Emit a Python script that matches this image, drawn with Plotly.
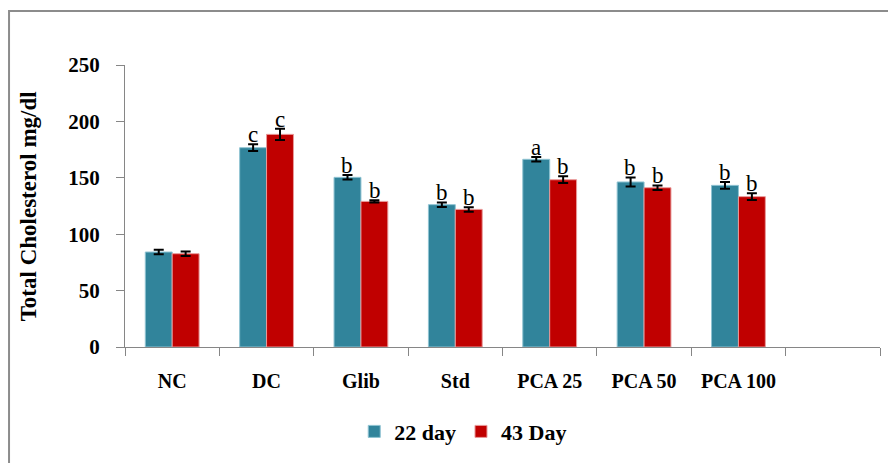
import plotly.graph_objects as go

categories = ["NC", "DC", "Glib", "Std", "PCA 25", "PCA 50", "PCA 100"]
day22 = [84.2, 176.7, 150.4, 126.2, 166.4, 146.3, 143.3]
day22_err = [2, 3, 2, 2, 2, 4, 3]
day22_letters = ["", "c", "b", "b", "a", "b", "b"]
day43 = [82.7, 188.5, 129.1, 122.0, 148.3, 141.2, 133.3]
day43_err = [2, 5, 1, 2, 3, 2, 3]
day43_letters = ["", "c", "b", "b", "b", "b", "b"]
y_ticks = [0, 50, 100, 150, 200, 250]

BLUE = "#31849B"
RED = "#C00000"
FONT = "Liberation Serif"

x = list(range(len(categories)))

fig = go.Figure()
fig.add_trace(go.Bar(
    x=x, y=day22, name="<b>22 day</b>", marker=dict(color=BLUE, line=dict(color="#8fc3d2", width=1)),
    error_y=dict(type="data", array=day22_err, color="black", thickness=2, width=5),
))
fig.add_trace(go.Bar(
    x=x, y=day43, name="<b>43 Day</b>", marker=dict(color=RED, line=dict(color="#e89a9a", width=1)),
    error_y=dict(type="data", array=day43_err, color="black", thickness=2, width=5),
))

for i in x:
    for off, vals, errs, letters in ((-0.145, day22, day22_err, day22_letters),
                                     (0.145, day43, day43_err, day43_letters)):
        if letters[i]:
            fig.add_annotation(x=i + off, y=vals[i] + errs[i], text=letters[i], showarrow=False,
                               xref="x", yref="y", yanchor="bottom", yshift=-5,
                               font=dict(family=FONT, size=23, color="black"))

fig.add_annotation(x=-0.128, y=0.50, xref="paper", yref="paper", xanchor="center", yanchor="middle",
                   text="<b>Total Cholesterol mg/dl</b>",
                   textangle=-90, showarrow=False, font=dict(family=FONT, size=23, color="black"))

fig.add_shape(type="rect", xref="paper", yref="paper", x0=-0.1536, x1=1.2, y0=-0.6, y1=1.1915,
              line=dict(color="#8c8c8c", width=2), layer="below")

fig.update_layout(
    width=896, height=463,
    margin=dict(l=117, r=24, t=57, b=124, autoexpand=False),
    paper_bgcolor="white", plot_bgcolor="white",
    barmode="group", bargap=0.43, bargroupgap=0,
    font=dict(family=FONT, color="black"),
    showlegend=True,
    legend=dict(orientation="h", x=0.448, xanchor="center", y=-0.30, yanchor="middle",
                font=dict(family=FONT, size=22, color="black"), traceorder="normal",
                itemwidth=30),
    xaxis=dict(
        range=[-0.5, 7.5], tickmode="array", tickvals=x,
        ticktext=["<b>%s</b>" % c for c in categories], ticks="",
        tickfont=dict(family=FONT, size=20, color="black"),
        showline=True, linecolor="#868686", linewidth=1, showgrid=False, zeroline=False,
        ticklabelstandoff=16, automargin=False,
        minor=dict(tick0=-0.5, dtick=1, ticks="outside", ticklen=8, tickcolor="#868686", tickwidth=1, showgrid=False),
    ),
    yaxis=dict(
        range=[0, 250], tickmode="array", tickvals=y_ticks,
        ticktext=["<b>%d</b>" % v for v in y_ticks],
        ticks="outside", ticklen=8, tickcolor="#868686",
        tickfont=dict(family=FONT, size=21, color="black"),
        showline=True, linecolor="#868686", linewidth=1, showgrid=False, zeroline=False,
        ticklabelstandoff=12, automargin=False,
    ),
)

fig.write_html("out.html")
